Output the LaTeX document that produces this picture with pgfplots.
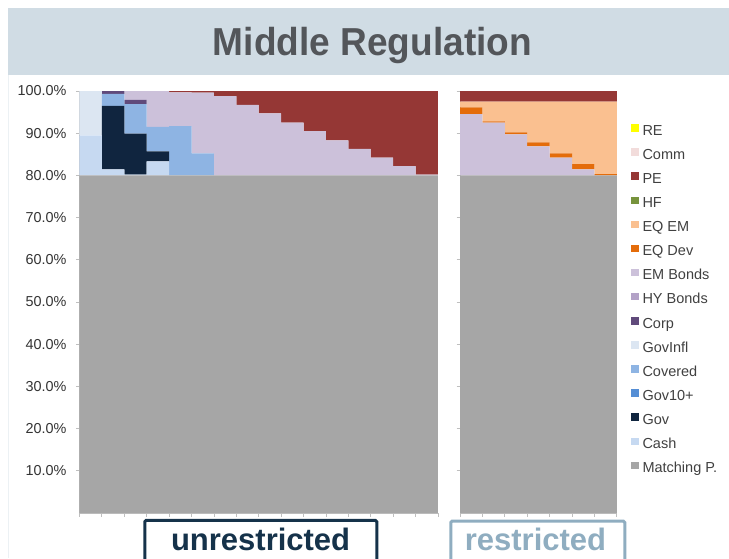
\documentclass[border=0pt]{standalone}
\usepackage{fontspec}
\setmainfont{Liberation Sans}
\usepackage{graphicx}
\usepackage{pgfplots}
\usepackage{pgfplotstable}
\pgfplotsset{compat=1.18}

% asset-class colours
\definecolor{cMP}{HTML}{A6A6A6}
\definecolor{cCash}{HTML}{C6D9F1}
\definecolor{cGov}{HTML}{10253F}
\definecolor{cGovX}{HTML}{558ED5}
\definecolor{cCov}{HTML}{8EB4E3}
\definecolor{cGovInfl}{HTML}{DCE6F2}
\definecolor{cCorp}{HTML}{604A7B}
\definecolor{cHY}{HTML}{B3A2C7}
\definecolor{cEM}{HTML}{CCC1DA}
\definecolor{cEQDev}{HTML}{E46C0A}
\definecolor{cEQEM}{HTML}{FAC090}
\definecolor{cHF}{HTML}{77933C}
\definecolor{cPE}{HTML}{953735}
\definecolor{cComm}{HTML}{F2DCDB}
\definecolor{cRE}{HTML}{FFFF00}
% slide colours
\definecolor{cBand}{HTML}{D0DCE4}
\definecolor{cTitle}{HTML}{53565A}
\definecolor{cAxis}{HTML}{BFBFBF}
\definecolor{cTick}{HTML}{333333}
\definecolor{cLeg}{HTML}{404040}
\definecolor{cUn}{HTML}{15324A}
\definecolor{cRe}{HTML}{8FADC0}

% portfolio weights in percent, stacked from the bottom
\pgfplotstableread{
x  MP Cash Gov  GovX Cov  GovInfl Corp HY EM   EQDev EQEM HF PE   Comm RE
1  80 9.5  0    0    0    10.5    0    0  0    0     0    0  0    0    0
2  80 1.4  15.1 0    2.8  0       0.7  0  0    0     0    0  0    0    0
3  80 0.2  9.7  0    7.0  0       1.0  0  2.1  0     0    0  0    0    0
4  80 3.3  2.4  0    5.8  0       0    0  8.5  0     0    0  0    0    0
5  80 0    0    0    11.7 0       0    0  8.0  0     0    0  0.3  0    0
6  80 0    0    0    5.2  0       0    0  14.4 0     0    0  0.4  0    0
7  80 0    0    0    0    0       0    0  18.8 0     0    0  1.2  0    0
8  80 0    0    0    0    0       0    0  16.7 0     0    0  3.3  0    0
9  80 0    0    0    0    0       0    0  14.7 0     0    0  5.3  0    0
10 80 0    0    0    0    0       0    0  12.5 0     0    0  7.5  0    0
11 80 0    0    0    0    0       0    0  10.5 0     0    0  9.5  0    0
12 80 0    0    0    0    0       0    0  8.3  0     0    0  11.7 0    0
13 80 0    0    0    0    0       0    0  6.3  0     0    0  13.7 0    0
14 80 0    0    0    0    0       0    0  4.2  0     0    0  15.8 0    0
15 80 0    0    0    0    0       0    0  2.2  0     0    0  17.8 0    0
16 80 0    0    0    0    0       0    0  0.2  0     0    0  19.8 0    0
}\unrestricted

\pgfplotstableread{
x  MP Cash Gov GovX Cov GovInfl Corp HY EM   EQDev EQEM HF PE  Comm RE
1  80 0    0   0    0   0       0    0  14.5 1.6   1.4  0  2.5 0    0
2  80 0    0   0    0   0       0    0  12.5 0.3   4.7  0  2.5 0    0
3  80 0    0   0    0   0       0    0  9.7  0.5   7.3  0  2.5 0    0
4  80 0    0   0    0   0       0    0  6.9  0.9   9.7  0  2.5 0    0
5  80 0    0   0    0   0       0    0  4.2  1.0   12.3 0  2.5 0    0
6  80 0    0   0    0   0       0    0  1.4  1.3   14.8 0  2.5 0    0
7  80 0    0   0    0   0       0    0  0    0.3   17.2 0  2.5 0    0
}\restricted

\newcommand{\stackseries}[1]{%
  \addplot[fill=cMP]      table[x=x,y=MP]{#1};
  \addplot[fill=cCash]    table[x=x,y=Cash]{#1};
  \addplot[fill=cGov]     table[x=x,y=Gov]{#1};
  \addplot[fill=cGovX]    table[x=x,y=GovX]{#1};
  \addplot[fill=cCov]     table[x=x,y=Cov]{#1};
  \addplot[fill=cGovInfl] table[x=x,y=GovInfl]{#1};
  \addplot[fill=cCorp]    table[x=x,y=Corp]{#1};
  \addplot[fill=cHY]      table[x=x,y=HY]{#1};
  \addplot[fill=cEM]      table[x=x,y=EM]{#1};
  \addplot[fill=cEQDev]   table[x=x,y=EQDev]{#1};
  \addplot[fill=cEQEM]    table[x=x,y=EQEM]{#1};
  \addplot[fill=cHF]      table[x=x,y=HF]{#1};
  \addplot[fill=cPE]      table[x=x,y=PE]{#1};
  \addplot[fill=cComm]    table[x=x,y=Comm]{#1};
  \addplot[fill=cRE]      table[x=x,y=RE]{#1};
}

\pgfplotsset{
  weights/.style={
    scale only axis, height=422pt,
    ymin=0, ymax=100,
    ybar stacked, bar width=1,
    every axis plot/.append style={draw=none},
    axis x line*=bottom, axis y line*=left,
    axis line style={draw=cAxis, line width=0.8pt},
    tick style={draw=cAxis, line width=0.8pt},
    tick align=outside, major tick length=3.5pt,
    xticklabels={},
    ytick={10,20,...,100},
    legend image code/.code={\fill[##1] (0pt,0pt) rectangle (7.5pt,7.5pt);},
  },
}

\begin{document}
\begin{tikzpicture}
\useasboundingbox (0pt,0pt) rectangle (729pt,-558pt);
\clip (0pt,0pt) rectangle (729pt,-558pt);

% header band
\fill[cBand] (8pt,-8pt) rectangle (729pt,-75pt);
\draw[color=cBand!40, line width=0.6pt] (8pt,-75pt) -- (8pt,-558pt);
\node[anchor=base, text=cTitle, font=\bfseries\fontsize{39}{39}\selectfont]
  at (372.5pt,-55.5pt) {\scalebox{0.95}[1]{Middle Regulation}};

% unrestricted allocation
\begin{axis}[weights,
  at={(79.5pt,-513pt)}, anchor=south west, width=358.4pt,
  xmin=0.5, xmax=16.5,
  xtick={0.5,1.5,...,16.5},
  yticklabel={\pgfmathprintnumber[fixed,fixed zerofill,precision=1,assume math mode=true]{\tick}\%},
  yticklabel style={font=\fontsize{14.4}{16}\selectfont, text=cTick, xshift=-6pt},
]
\stackseries{\unrestricted}
\end{axis}

% restricted allocation
\begin{axis}[weights,
  at={(460pt,-513pt)}, anchor=south west, width=156.8pt,
  xmin=0.5, xmax=7.5,
  xtick={0.5,1.5,...,7.5},
  yticklabels={},
  reverse legend,
  legend cell align=left,
  legend style={draw=none, fill=none,
    at={(1,1)}, anchor=north west, xshift=14pt, yshift=-33pt,
    font=\fontsize{14.5}{16}\selectfont, text=cLeg,
    row sep=9.6pt, inner sep=0pt,
    nodes={inner sep=0pt, text height=10.5pt, text depth=3.5pt},
    /tikz/every odd column/.style={column sep=4pt}},
  legend entries={Matching P.,Cash,Gov,Gov10+,Covered,GovInfl,Corp,HY Bonds,EM Bonds,EQ Dev,EQ EM,HF,PE,Comm,RE},
]
\stackseries{\restricted}
\end{axis}

% scenario labels
\draw[cUn, line width=3pt, rounded corners=1.5pt] (144.8pt,-520.3pt) rectangle (376.8pt,-575pt);
\node[anchor=base, text=cUn, font=\bfseries\fontsize{31}{31}\selectfont] at (260.6pt,-550pt) {unrestricted};
\draw[cRe, line width=3pt, rounded corners=1.5pt] (450.8pt,-521pt) rectangle (624.8pt,-575pt);
\node[anchor=base, text=cRe, font=\bfseries\fontsize{31}{31}\selectfont] at (535.5pt,-550pt) {restricted};
\end{tikzpicture}
\end{document}
